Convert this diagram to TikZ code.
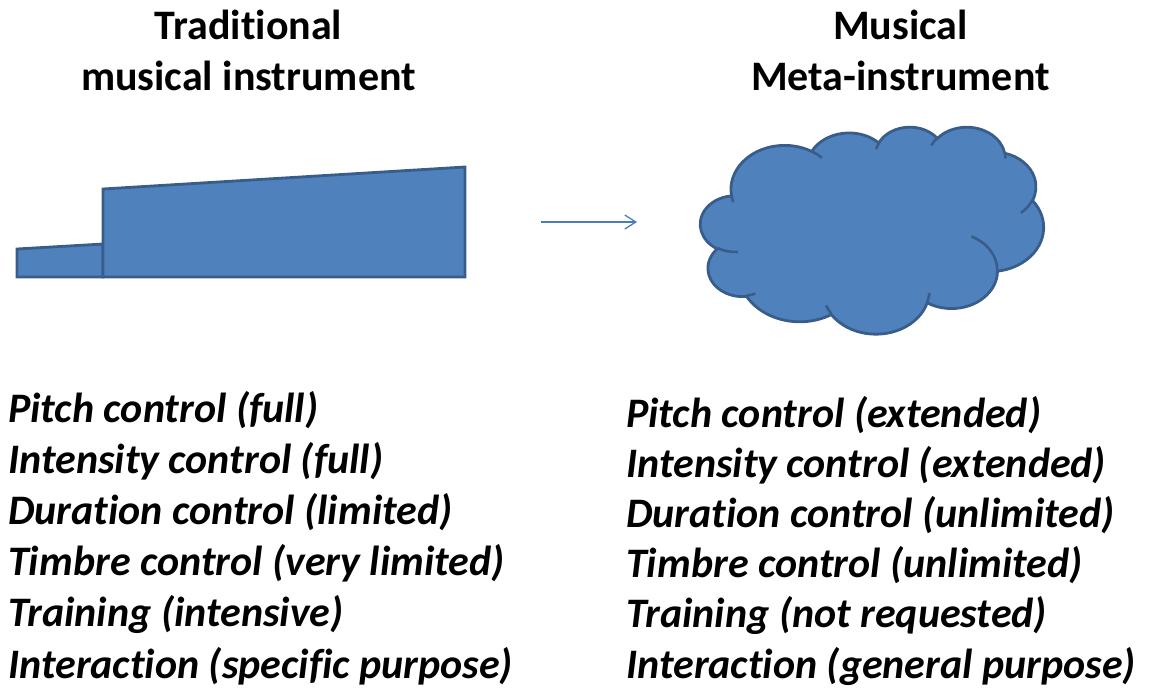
\documentclass[tikz,border=0pt]{standalone}
\usepackage{fontspec}
\setmainfont{Carlito}[Ligatures=NoCommon]
\usepackage{xcolor}
\usetikzlibrary{arrows.meta}
\definecolor{shapefill}{HTML}{4F81BD}
\definecolor{shapeline}{HTML}{385D8A}
\definecolor{arrowblue}{HTML}{4A7EBB}
\tikzset{
  heading/.style={font=\fontsize{42}{51}\selectfont\bfseries,anchor=base,inner sep=0pt},
  item/.style={font=\fontsize{42}{51}\selectfont\bfseries\itshape,anchor=base west,inner sep=0pt},
  block/.style={draw=shapeline,fill=shapefill,line width=2.8pt},
  hint/.style={draw=shapeline,line width=2.6pt},
  link/.style={-{Straight Barb[length=11pt,width=14pt]},line width=1.3pt,color=arrowblue},
}

\begin{document}
\begin{tikzpicture}[x=1pt,y=-1pt]
  \useasboundingbox (0,0) rectangle (1160,694);

  % headings
  \node[heading] (tradtop) at (248.5,39) {Traditional};
  \node[heading] (tradbot) at (248.5,90) {musical instrument};
  \node[heading] (metatop) at (900.5,39) {Musical};
  \node[heading] (metabot) at (900.5,90) {Meta-instrument};

  % traditional instrument
  \draw[block] (17,277) -- (17,249) -- (103,244) -- (103,277) -- cycle;
  \draw[block] (103,277) -- (103,189) -- (465,167) -- (465,277) -- cycle;

  % arrow
  \coordinate (linkstart) at (541,222);
  \coordinate (linkend) at (637,222);
  \draw[link] (linkstart) -- (linkend);

  % meta-instrument cloud
  \begin{scope}[shift={(700.5,126.5)},x=0.794pt,y=-0.479pt]
    \draw[block] (39.00,143.70)
      \foreach \wr/\hr/\st/\sw
        [evaluate={\st as \ta using atan2(\wr*sin(\st),\hr*cos(\st))},
         evaluate={\st as \dl using mod(atan2(\wr*sin(\st+\sw),\hr*cos(\st+\sw))-atan2(\wr*sin(\st),\hr*cos(\st))+720,360)}]
        in {67.53/91.90/-190.4875/123.7805,
            53.33/72.67/-144.1024/89.9452,
            43.65/59.45/-145.8079/99.7230,
            48.57/65.95/-130.9861/117.2417,
            53.33/72.73/-78.7089/109.0269,
            67.75/92.20/-46.2673/130.2690,
            57.85/78.67/0.6250/114.0333,
            67.52/92.15/22.4516/115.1726,
            77.20/105.43/66.2426/75.7110,
            43.60/59.18/-274.9421/146.7356,
            43.45/59.45/-246.8285/152.5189}
        { arc[start angle=\ta,delta angle=\dl,x radius=\wr,y radius=\hr] } -- cycle;
    \draw[hint]
      \foreach \px/\py/\wr/\hr/\st/\sw
        [evaluate={\st as \ta using atan2(\wr*sin(\st),\hr*cos(\st))},
         evaluate={\st as \dl using mod(atan2(\wr*sin(\st+\sw),\hr*cos(\st+\sw))-atan2(\wr*sin(\st),\hr*cos(\st))+720,360)}]
        in {46.93/261.77/43.45/59.45/86.7420/26.4295,
            69.28/348.99/43.60/59.18/73.6105/11.4475,
            164.78/390.90/67.52/92.15/137.6242/14.0811,
            288.27/347.51/67.52/92.15/6.4533/15.9984,
            341.29/229.54/57.85/78.67/-70.2924/70.9174,
            417.98/153.54/53.33/72.73/30.3180/27.7515,
            383.24/54.26/48.57/65.95/-13.7443/14.8589,
            290.78/39.52/48.57/65.95/-149.1815/18.1954,
            221.41/47.20/43.65/59.45/-163.4943/17.6864,
            140.00/51.92/67.53/91.90/-66.7070/12.3194,
            41.27/157.89/67.53/91.90/157.6544/11.8582}
        { (\px,\py) arc[start angle=\ta,delta angle=\dl,x radius=\wr,y radius=\hr] };
  \end{scope}

  % properties of the traditional instrument
  \foreach \txt [count=\i] in {Pitch control (full),Intensity control (full),
      Duration control (limited),Timbre control (very limited),
      Training (intensive),Interaction (specific purpose)}
    \node[item] (trad\i) at (8,{422+51.2*(\i-1)}) {\txt};

  % properties of the meta-instrument
  \foreach \txt [count=\i] in {Pitch control (extended),Intensity control (extended),
      Duration control (unlimited),Timbre control (unlimited),
      Training (not requested),Interaction (general purpose)}
    \node[item] (meta\i) at (626,{427+50.2*(\i-1)}) {\txt};
\end{tikzpicture}
\end{document}
